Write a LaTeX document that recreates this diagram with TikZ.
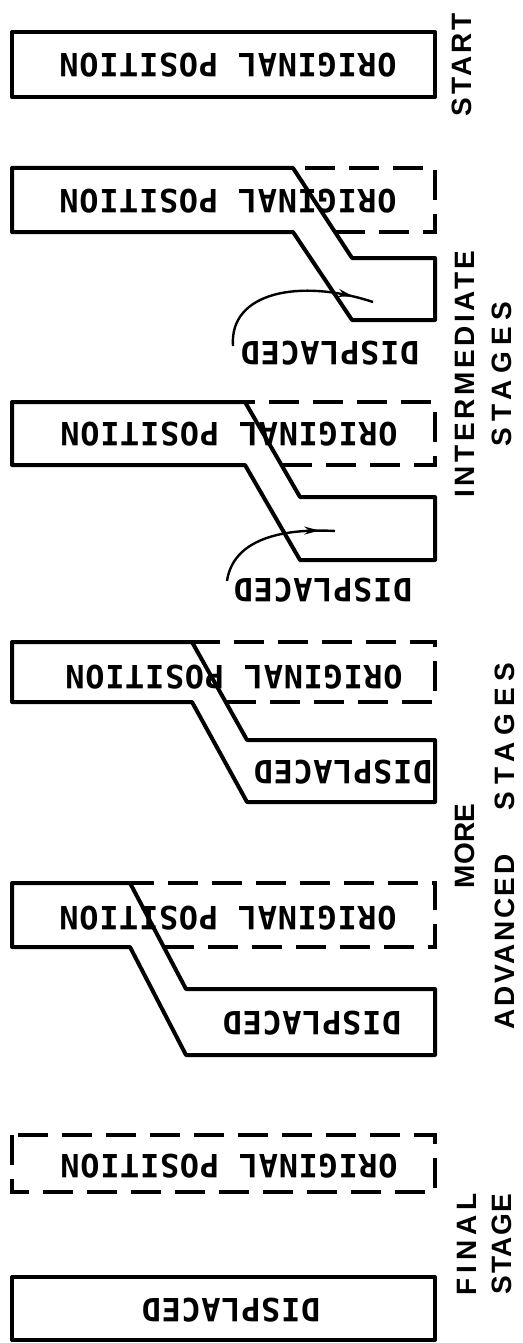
\documentclass[tikz,border=0pt]{standalone}
\usepackage{fontspec}
\usetikzlibrary{arrows.meta,decorations.markings}
\newfontfamily\platefont[LetterSpace=2]{DejaVu Sans Mono Bold}
\newfontfamily\stagefont{Liberation Sans Bold}

\tikzset{
  outline/.style={line width=4pt, line join=round, line cap=round},
  ghost/.style={line width=4pt, dash pattern=on 30pt off 14pt},
  plate/.style={rotate=180, inner sep=0pt, font=\platefont\fontsize{32}{38}\selectfont},
  stage/.style={rotate=90, inner sep=0pt, align=center},
  pointer/.style={line width=2.4pt, postaction=decorate,
    decoration={markings, mark=at position 0.88 with {\arrow{Stealth[length=15pt,width=8pt]}}}},
}

\begin{document}
\begin{tikzpicture}[x=1pt, y=-1pt]
\useasboundingbox (0,0) rectangle (522,1343);

% start: block in its original position
\draw[outline] (12,32) rectangle (435,97);
\node[plate] (orig1) at (228,65) {ORIGINAL POSITION};

% first intermediate stage
\draw[outline] (12,168) -- (293,168) -- (352,258) -- (435,258) -- (435,320)
  -- (352,320) -- (293,232) -- (12,232) -- cycle;
\draw[ghost] (335,232) -- (435,232) -- (435,168) -- (293,168);
\node[plate] (orig2) at (228,201) {ORIGINAL POSITION};
\node[plate] (disp2) at (330,353) {DISPLACED};
\coordinate (tail2) at (233,346);
\coordinate (head2) at (373,302);
\draw[pointer] (tail2) .. controls (229,292) and (300,278) .. (head2);

% second intermediate stage
\draw[outline] (12,402) -- (245,402) -- (300,497) -- (435,497) -- (435,560)
  -- (300,560) -- (245,465) -- (12,465) -- cycle;
\draw[ghost] (282,465) -- (435,465) -- (435,402) -- (245,402);
\node[plate] (orig3) at (229,434) {ORIGINAL POSITION};
\node[plate] (disp3) at (323,590) {DISPLACED};
\coordinate (tail3) at (227,581);
\coordinate (head3) at (335,531);
\draw[pointer] (tail3) .. controls (233,540) and (280,528) .. (head3);

% more advanced stages
\draw[outline] (12,642) -- (192,642) -- (247,740) -- (435,740) -- (435,802)
  -- (247,802) -- (192,702) -- (12,702) -- cycle;
\draw[ghost] (226,702) -- (435,702) -- (435,642) -- (192,642);
\node[plate] (orig4) at (234,677) {ORIGINAL POSITION};
\node[plate] (disp4) at (343,772) {DISPLACED};

\draw[outline] (12,883) -- (130,883) -- (186,989) -- (435,989) -- (435,1055)
  -- (186,1055) -- (130,947) -- (12,947) -- cycle;
\draw[ghost] (164,947) -- (435,947) -- (435,883) -- (130,883);
\node[plate] (orig5) at (228,918) {ORIGINAL POSITION};
\node[plate] (disp5) at (312,1023) {DISPLACED};

% final stage
\draw[ghost] (12,1135) rectangle (435,1192);
\node[plate] (orig6) at (229,1166) {ORIGINAL POSITION};
\draw[outline] (12,1277) rectangle (435,1340);
\node[plate] (disp7) at (231,1310) {DISPLACED};

% stage captions
\node[stage, font=\stagefont\fontsize{28}{34}\selectfont] (start) at (461.5,65)
  {{\addfontfeature{LetterSpace=10.5}START}};
\node[stage, font=\stagefont\fontsize{28}{37}\selectfont] (inter) at (483.5,374)
  {{\addfontfeature{LetterSpace=12.8}INTERMEDIATE}\\{\addfontfeature{LetterSpace=23}STAGES}};
\node[stage, font=\stagefont\fontsize{28}{40}\selectfont] (more) at (485,846)
  {{\addfontfeature{LetterSpace=1}MORE}\\{\addfontfeature{LetterSpace=9.4}ADVANCED}\hspace{44pt}{\addfontfeature{LetterSpace=25}STAGES}};
\node[stage, font=\stagefont\fontsize{28}{35}\selectfont] (final) at (484.5,1244)
  {{\addfontfeature{LetterSpace=17.5}FINAL}\\{\addfontfeature{LetterSpace=5}STAGE}};
\end{tikzpicture}
\end{document}
